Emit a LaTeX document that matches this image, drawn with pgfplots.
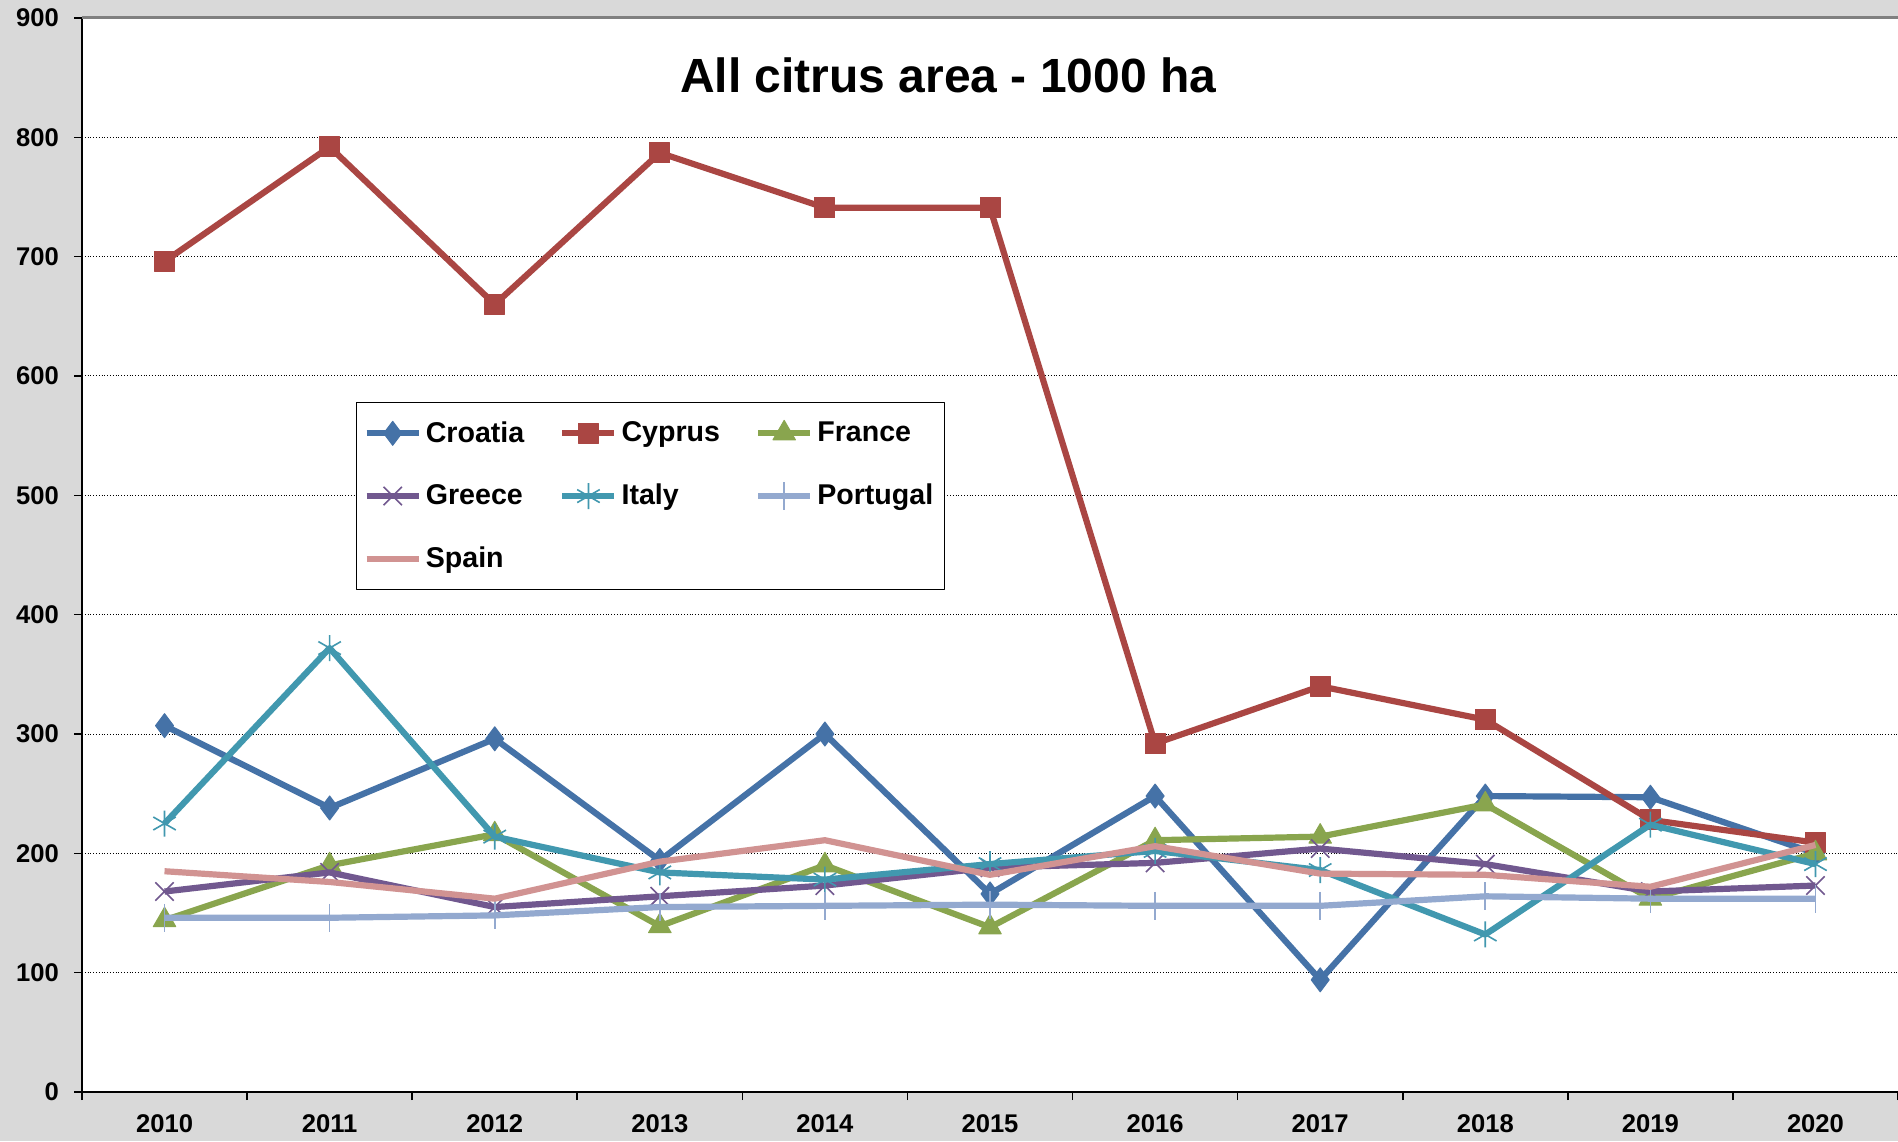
\documentclass[border=0pt]{standalone}
\usepackage{fontspec}
\setmainfont{Liberation Sans}
\usepackage{pgfplots}
\pgfplotsset{compat=1.18}
\usetikzlibrary{backgrounds}

\definecolor{croatia}{HTML}{4572A7}
\definecolor{cyprus}{HTML}{AA4643}
\definecolor{france}{HTML}{89A54E}
\definecolor{greece}{HTML}{71588F}
\definecolor{italy}{HTML}{4198AF}
\definecolor{portugal}{HTML}{93A9CF}
\definecolor{spain}{HTML}{D19392}
\definecolor{bggray}{HTML}{D9D9D9}

\begin{document}
\begin{tikzpicture}
\begin{axis}[
    name=ax,
    width=908pt, height=537pt, scale only axis,
    xmin=-0.5, xmax=10.5, ymin=0, ymax=900,
    ytick={0,100,...,900},
    xtick={-0.5,0.5,...,10.5}, xticklabels={},
    extra x ticks={0,1,2,3,4,5,6,7,8,9,10},
    extra x tick labels={2010,2011,2012,2013,2014,2015,2016,2017,2018,2019,2020},
    extra x tick style={major tick length=0pt, xticklabel style={yshift=-8pt}},
    axis x line*=bottom, axis y line*=left,
    axis line style={-, black, line width=1pt},
    tick align=outside, major tick length=4pt,
    tick style={black, line width=0.8pt},
    ymajorgrids, grid style={black, densely dotted, line width=0.5pt},
    tick label style={font=\bfseries\fontsize{12.8}{15}\selectfont},
    /pgf/number format/assume math mode=true,
    yticklabel style={xshift=-4pt},
    axis background/.style={fill=white},
    clip mode=individual,
    line join=round,
    legend columns=3, legend cell align=left,
    legend style={at={(rel axis cs:0.151,0.642)}, anchor=north west, draw=black,
        font=\bfseries\fontsize{14.3}{16}\selectfont, row sep=15.5pt,
        inner xsep=3.5pt, inner ysep=7.3pt,
        /tikz/every even column/.append style={column sep=15.5pt}},
    legend image code/.code={\draw[mark repeat=2,mark phase=2] plot coordinates {(0pt,0pt) (13pt,0pt) (26pt,0pt)};},
    every axis plot/.append style={line width=3.1pt},
]
\draw[gray, line width=1.5pt] (rel axis cs:0,1) -- (rel axis cs:1,1);

\addplot[croatia, mark=diamond*, mark size=6pt, mark options={line width=0.5pt, fill=croatia}] coordinates {
 (0,307) (1,238) (2,296) (3,194) (4,300) (5,166) (6,248) (7,94) (8,248) (9,247) (10,200)};
\addplot[cyprus, mark=square*, mark size=5pt, mark options={line width=0.5pt, fill=cyprus}] coordinates {
 (0,696) (1,792) (2,660) (3,787) (4,741) (5,741) (6,292) (7,340) (8,312) (9,228) (10,209)};
\addplot[france, mark=triangle*, mark size=6.5pt, mark options={line width=0.5pt, fill=france}] coordinates {
 (0,144) (1,190) (2,216) (3,139) (4,190) (5,138) (6,211) (7,214) (8,241) (9,162) (10,200)};
\addplot[greece, mark=x, mark size=6.5pt, mark options={line width=0.8pt}] coordinates {
 (0,168) (1,184) (2,155) (3,164) (4,173) (5,188) (6,192) (7,204) (8,191) (9,168) (10,173)};
\addplot[italy, mark=asterisk, mark size=6.5pt, mark options={line width=0.8pt}] coordinates {
 (0,225) (1,372) (2,214) (3,184) (4,178) (5,191) (6,202) (7,186) (8,132) (9,224) (10,191)};
\addplot[portugal, mark=|, mark size=7pt, mark options={line width=0.8pt}] coordinates {
 (0,146) (1,146) (2,148) (3,155) (4,156) (5,157) (6,156) (7,156) (8,164) (9,162) (10,162)};
\addplot[spain, no marks] coordinates {
 (0,185) (1,176) (2,162) (3,193) (4,211) (5,182) (6,206) (7,183) (8,182) (9,172) (10,207)};

\legend{Croatia, Cyprus, France, Greece, Italy, Portugal, Spain}

\node[font=\bfseries\fontsize{24}{28}\selectfont] at (rel axis cs:0.477,0.947) {All citrus area - 1000 ha};
\end{axis}
\pgfresetboundingbox
\begin{pgfonlayer}{background}
\fill[bggray] ([shift={(-41pt,-24.5pt)}]ax.south west) rectangle ([shift={(0pt,9pt)}]ax.north east);
\end{pgfonlayer}
\useasboundingbox ([shift={(-41pt,-24.5pt)}]ax.south west) rectangle ([shift={(0pt,9pt)}]ax.north east);
\end{tikzpicture}
\end{document}
